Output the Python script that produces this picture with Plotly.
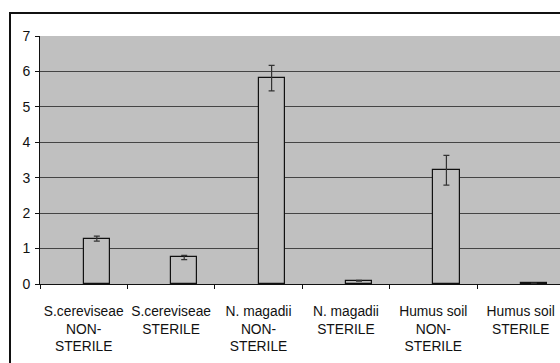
import plotly.graph_objects as go

categories = [
    "S.cereviseae<br>NON-<br>STERILE",
    "S.cereviseae<br>STERILE",
    "N. magadii<br>NON-<br>STERILE",
    "N. magadii<br>STERILE",
    "Humus soil<br>NON-<br>STERILE",
    "Humus soil<br>STERILE",
]
values = [1.28, 0.75, 5.81, 0.09, 3.21, 0.02]
errors = [0.07, 0.06, 0.36, 0.01, 0.42, 0.005]
y_ticks = [0, 1, 2, 3, 4, 5, 6, 7]

W, H = 560, 363
ml, mt, mb = 40, 36, 79
plot_w = W - ml
plot_h = H - mt - mb

fig = go.Figure()
fig.add_trace(go.Bar(
    x=categories, y=values,
    width=0.3, offset=0,
    marker=dict(color="#C0C0C0", line=dict(color="#111111", width=1.2)),
    error_y=dict(type="data", array=errors, visible=True,
                 color="#333333", thickness=1.2, width=3),
    showlegend=False,
))

fig.update_layout(
    width=W, height=H,
    margin=dict(l=ml, r=0, t=mt, b=mb, pad=0),
    paper_bgcolor="white",
    plot_bgcolor="#C0C0C0",
    font=dict(family="Liberation Sans, Arial, sans-serif", size=14, color="#111111"),
    bargap=0,
    shapes=[dict(
        type="rect", xref="paper", yref="paper",
        x0=-30 / plot_w, x1=1.2, y0=-1.0, y1=1 + 23 / plot_h,
        line=dict(color="#111111", width=2), fillcolor="rgba(0,0,0,0)",
        layer="below",
    )],
)
fig.update_xaxes(
    type="category", categoryorder="array", categoryarray=categories,
    range=[-0.5, -0.5 + plot_w / 87.4],
    showline=True, linecolor="#111111", linewidth=1,
    ticks="outside", ticklen=4, tickcolor="#111111", tickson="boundaries",
    showgrid=False, tickfont=dict(size=13.8), ticklabelstandoff=14,
    tickangle=0, automargin=False,
)
fig.update_yaxes(
    range=[0, 7], tickvals=y_ticks, ticktext=[str(v) for v in y_ticks],
    showline=True, linecolor="#111111", linewidth=1,
    ticks="outside", ticklen=4, tickcolor="#111111",
    showgrid=True, gridcolor="#444444", gridwidth=1,
    zeroline=False, tickfont=dict(size=14), ticklabelstandoff=2,
    automargin=False,
)

fig.write_html(
    "out.html",
    config={"displayModeBar": False},
    post_script="document.body.style.margin='0';document.body.style.overflow='hidden';",
)
